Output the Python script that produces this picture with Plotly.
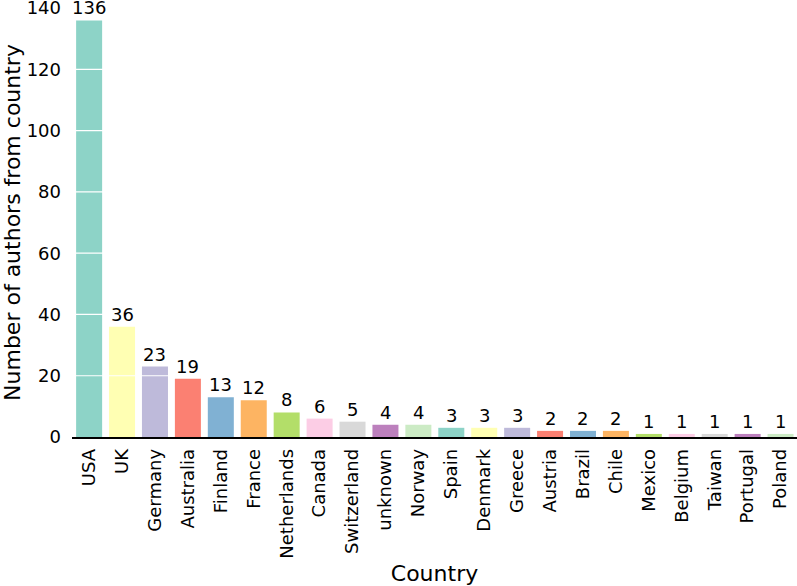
import plotly.graph_objects as go

countries = ["USA", "UK", "Germany", "Australia", "Finland", "France", "Netherlands",
             "Canada", "Switzerland", "unknown", "Norway", "Spain", "Denmark", "Greece",
             "Austria", "Brazil", "Chile", "Mexico", "Belgium", "Taiwan", "Portugal", "Poland"]
authors = [136, 36, 23, 19, 13, 12, 8, 6, 5, 4, 4, 3, 3, 3, 2, 2, 2, 1, 1, 1, 1, 1]
palette = ["#8dd3c7", "#ffffb3", "#bebada", "#fb8072", "#80b1d3", "#fdb462",
           "#b3de69", "#fccde5", "#d9d9d9", "#bc80bd", "#ccebc5"]
y_ticks = [0, 20, 40, 60, 80, 100, 120, 140]

colors = [palette[i % len(palette)] for i in range(len(countries))]
font = dict(family="DejaVu Sans", size=18, color="black")

fig = go.Figure(go.Bar(x=countries, y=authors, marker=dict(color=colors, line_width=0),
                       width=0.79))

# white grid lines drawn on top of the bars
for t in y_ticks[1:]:
    fig.add_shape(type="line", xref="paper", x0=0, x1=1, yref="y", y0=t, y1=t,
                  line=dict(color="white", width=1.2), layer="above")

# value labels as annotations so they sit above the grid lines
for c, v in zip(countries, authors):
    fig.add_annotation(x=c, y=v, text=str(v), showarrow=False, yanchor="bottom",
                       yshift=0, font=font)

fig.update_layout(width=797, height=586, plot_bgcolor="white", paper_bgcolor="white",
                  font=font, showlegend=False,
                  margin=dict(l=72, r=0, t=8, b=149, autoexpand=False))
fig.update_xaxes(range=[-0.52, 21.5], tickangle=-90, showline=True, linecolor="black",
                 linewidth=1.5, ticks="", ticklabelstandoff=3, showgrid=False,
                 automargin=False, title=dict(text="Country", standoff=12), tickfont=font)
fig.update_yaxes(range=[0, 140.05], tickvals=y_ticks, showgrid=False, zeroline=False,
                 showline=False, ticks="", ticklabelstandoff=10, tickfont=font,
                 ticklabeloverflow="allow", automargin=False,
                 title=dict(text="Number of authors from country", standoff=5))

fig.write_html("out.html", config={"displayModeBar": False},
               post_script="document.body.style.margin='0';")
